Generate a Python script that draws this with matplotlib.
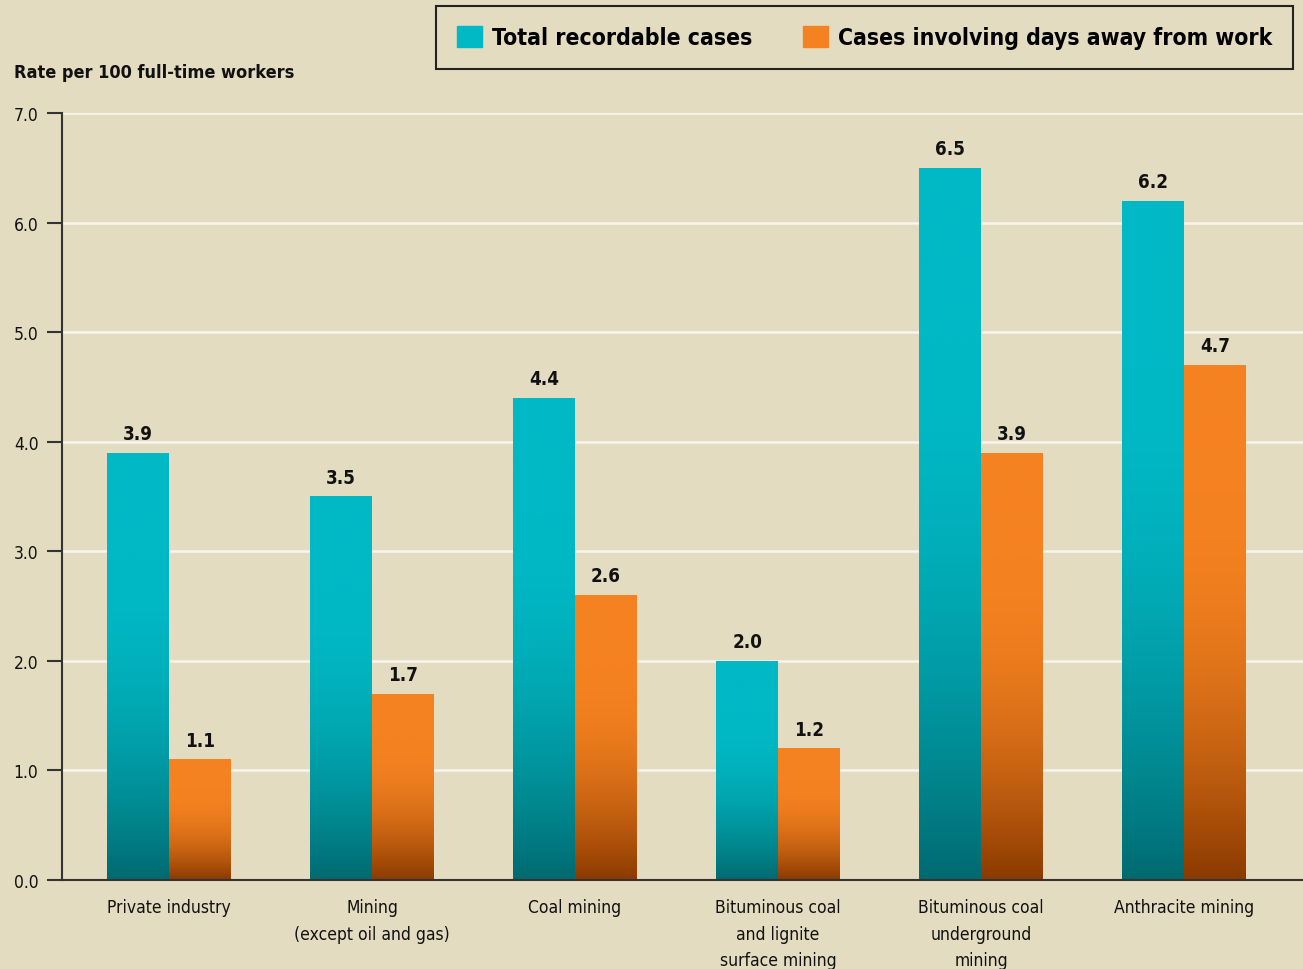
import numpy as np
import matplotlib.pyplot as plt
from matplotlib.colors import to_rgb
from matplotlib.patches import Patch

categories = ["Private industry", "Mining\n(except oil and gas)", "Coal mining",
              "Bituminous coal\nand lignite\nsurface mining",
              "Bituminous coal\nunderground\nmining", "Anthracite mining"]
total_cases = [3.9, 3.5, 4.4, 2.0, 6.5, 6.2]
days_away = [1.1, 1.7, 2.6, 1.2, 3.9, 4.7]
series_names = ["Total recordable cases", "Cases involving days away from work"]

BG = "#E3DCC0"
TEAL, TEAL_DK = "#00B9C5", "#006A70"
ORANGE, ORANGE_DK = "#F58220", "#8B3A00"

plt.rcParams["font.family"] = ["DejaVu Sans"]
plt.rcParams["font.stretch"] = "condensed"

fig = plt.figure(figsize=(13.03, 9.70), dpi=100, facecolor=BG)
ax = fig.add_axes([0.0476, 0.0918, 0.9524, 0.7907], facecolor=BG)

x = np.arange(len(categories))
w = 0.305
b1 = ax.bar(x - w / 2, total_cases, w, color=TEAL, zorder=2)
b2 = ax.bar(x + w / 2, days_away, w, color=ORANGE, zorder=2)


def shade(bars, top, bottom):
    # vertical gradient per bar: base colour at top, darker toward the bottom
    t = np.linspace(0, 1, 200)[:, None]
    f = 1 - (1 - np.clip(t / 0.75, 0, 1)) ** 2
    c0, c1 = np.array(to_rgb(bottom)), np.array(to_rgb(top))
    img = (c0 + (c1 - c0) * f[:, :, None]).repeat(2, axis=1)
    for p in bars:
        x0, h = p.get_x(), p.get_height()
        im = ax.imshow(img, extent=(x0, x0 + p.get_width(), 0, h), origin="lower",
                       aspect="auto", zorder=3, interpolation="bilinear")
        im.set_clip_path(p)


shade(b1, TEAL, TEAL_DK)
shade(b2, ORANGE, ORANGE_DK)

for bars, vals in ((b1, total_cases), (b2, days_away)):
    for p, v in zip(bars, vals):
        ax.annotate(f"{v:.1f}", (p.get_x() + p.get_width() / 2, v),
                    xytext=(0, 7), textcoords="offset points", ha="center",
                    va="bottom", fontsize=13.5, fontweight="bold", color="#111")

ax.set_xlim(-0.527, 5.586)
ax.set_ylim(0, 7)
ax.set_yticks(np.arange(0, 8))
ax.set_yticklabels([f"{v:.1f}" for v in range(8)], fontsize=12.5, color="#111")
ax.tick_params(axis="y", direction="out", length=11, width=1.5, color="#333", pad=6)
ax.set_xticks(x)
ax.set_xticklabels(categories, fontsize=12.5, color="#111", linespacing=1.62)
ax.tick_params(axis="x", length=0, pad=13)
ax.grid(axis="y", color="#F8F5EC", lw=1.8, zorder=1)
ax.set_axisbelow(True)
for s in ("top", "right"):
    ax.spines[s].set_visible(False)
for s in ("left", "bottom"):
    ax.spines[s].set_color("#333")
    ax.spines[s].set_linewidth(1.5)
    ax.spines[s].set_zorder(4)

fig.text(0.0107, 0.925, "Rate per 100 full-time workers", fontsize=13,
         fontweight="bold", color="#111", va="center")

handles = [Patch(color=TEAL), Patch(color=ORANGE)]
leg = fig.legend(handles, series_names, loc="upper right",
                 bbox_to_anchor=(0.9923, 0.9928), ncol=2, frameon=True,
                 fancybox=False, edgecolor="#222", facecolor=BG, framealpha=1,
                 prop={"weight": "bold", "size": 16.5},
                 handlelength=1.1, handleheight=1.0, handletextpad=0.45,
                 columnspacing=2.2, borderpad=0.88, borderaxespad=0)
leg.get_frame().set_linewidth(1.5)

fig.savefig("out.png", dpi=100, facecolor=BG)
